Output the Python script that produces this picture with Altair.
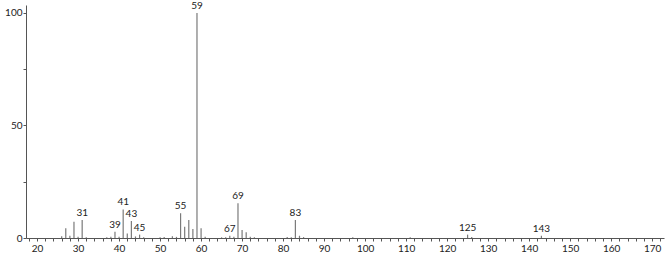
import altair as alt
import pandas as pd

mz = [26, 27, 28, 29, 30, 31, 32, 37, 38, 39, 40, 41, 42, 43, 44, 45, 46, 50, 51, 53, 54,
      55, 56, 57, 58, 59, 60, 61, 65, 66, 67, 68, 69, 70, 71, 72, 73, 81, 82, 83, 84, 85,
      97, 111, 125, 126, 143]
intensity = [0.8, 4.3, 1.0, 7.2, 0.5, 8.0, 0.3, 0.3, 0.5, 2.8, 0.5, 12.7, 2.0, 7.5, 0.7, 1.5, 0.3, 0.3, 0.4, 0.8, 0.5,
             11.0, 5.0, 8.0, 4.0, 100.0, 4.3, 0.5, 0.3, 0.3, 1.0, 0.5, 15.4, 3.6, 2.5, 0.5, 0.3, 0.4, 0.3, 8.0, 1.0, 0.4,
             0.3, 0.3, 1.5, 0.4, 1.0]
label_mz = [31, 39, 41, 43, 45, 55, 59, 67, 69, 83, 125, 143]

df = pd.DataFrame({"mz": mz, "y": intensity})
lab = df[df["mz"].isin(label_mz)].copy()
lab["text"] = lab["mz"].astype(str)

FONT = "Lato"
xs = alt.Scale(domain=[17.3, 172.9], nice=False, zero=False)
ys = alt.Scale(domain=[0, 103.5], nice=False)

xticks = [float(v) for v in range(18, 173, 2)]

xaxis = alt.Axis(
    values=xticks, labelExpr="datum.value % 10 == 0 ? datum.label : ''",
    labelOverlap=False, labelBound=False,
    title=None, grid=False, tickSize=3, domainColor="#555", tickColor="#555",
    labelFont=FONT, labelFontSize=10, labelColor="#222", labelPadding=2, labelFlush=False)
yaxis = alt.Axis(
    values=[0, 25, 50, 75, 100], labelExpr="datum.value % 50 == 0 ? datum.label : ''",
    labelOverlap=False,
    title=None, grid=False, tickSize=3, domainColor="#555", tickColor="#555",
    labelFont=FONT, labelFontSize=10, labelColor="#222", labelPadding=1)

bars = alt.Chart(df).mark_rule(color="#7a7a7a", strokeWidth=1.2).encode(
    x=alt.X("mz:Q", scale=xs, axis=xaxis),
    y=alt.Y("y:Q", scale=ys, axis=yaxis),
    y2=alt.datum(0),
)

texts = alt.Chart(lab).mark_text(font=FONT, fontSize=10, color="#222", baseline="bottom", dy=-2).encode(
    x=alt.X("mz:Q", scale=xs, axis=xaxis),
    y=alt.Y("y:Q", scale=ys, axis=yaxis),
    text="text:N",
)

chart = (bars + texts).properties(
    width=638, height=233,
    autosize=alt.AutoSizeParams(type="none"),
    padding={"left": 26, "top": 5, "right": 2, "bottom": 16},
).configure_view(stroke=None)

chart.save("out.html", embed_options={"renderer": "svg", "actions": False})
